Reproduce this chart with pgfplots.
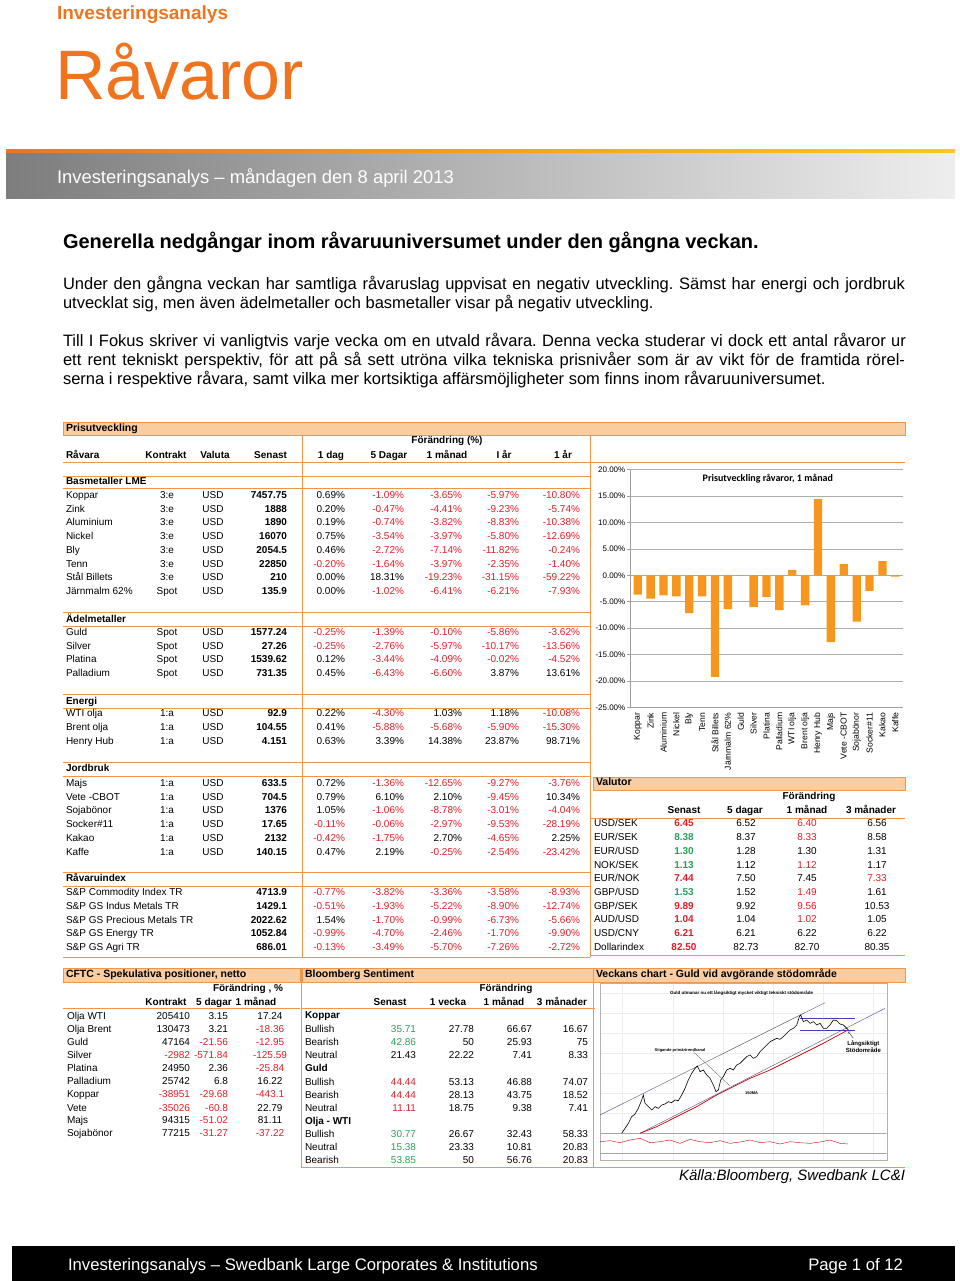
\documentclass[border=0pt]{standalone}
\usepackage{fontspec}
\setmainfont{Liberation Sans}
\newfontfamily\calibri{Carlito}
\usepackage{pgfplots}
\pgfplotsset{compat=1.18}
\frenchspacing

\definecolor{sworange}{RGB}{240,116,30}
\definecolor{swyellow}{RGB}{250,200,30}
\definecolor{lineor}{RGB}{240,150,70}
\definecolor{hdrfill}{RGB}{250,205,160}
\definecolor{negred}{RGB}{220,30,40}
\definecolor{posgreen}{RGB}{40,160,90}
\definecolor{barorange}{RGB}{247,150,30}
\definecolor{gdark}{RGB}{125,125,125}
\definecolor{glight}{RGB}{238,238,238}

\newcommand\fsz[1]{\fontsize{#1}{#1}\selectfont}
\def\vc#1{\vcx#1\relax}
\def\vcx#1#2\relax{\ifx-#1\textcolor{negred}{#1#2}\else#1#2\fi}
\newcommand\Rd[1]{\textcolor{negred}{#1}}
\newcommand\Gn[1]{\textcolor{posgreen}{#1}}

% Prisutveckling rows
\newcommand\prow[5]{%
 \node[anchor=mid west] at (66,#1) {#2};
 \node[anchor=mid] at (167,#1) {#3};
 \node[anchor=mid] at (213,#1) {#4};
 \node[anchor=mid east] at (287,#1) {\bfseries #5};}
\newcommand\pv[6]{%
 \node[anchor=mid east] at (345,#1) {\vc{#2\%}};
 \node[anchor=mid east] at (404,#1) {\vc{#3\%}};
 \node[anchor=mid east] at (462,#1) {\vc{#4\%}};
 \node[anchor=mid east] at (519,#1) {\vc{#5\%}};
 \node[anchor=mid east] at (580,#1) {\vc{#6\%}};}
% Valutor rows
\newcommand\vrow[6]{%
 \node[anchor=mid west] at (594,#1) {#2};
 \node[anchor=mid] at (684,#1) {\bfseries #3};
 \node[anchor=mid] at (746,#1) {#4};
 \node[anchor=mid] at (807,#1) {#5};
 \node[anchor=mid] at (877,#1) {#6};}
% CFTC rows
\newcommand\crow[5]{%
 \node[anchor=mid west] at (67,#1) {#2};
 \node[anchor=mid east] at (190,#1) {\vc{#3}};
 \node[anchor=mid east] at (228,#1) {\vc{#4}};
 \node[anchor=mid] at (270,#1) {\vc{#5}};}
% Bloomberg rows
\newcommand\brow[6]{%
 \node[anchor=mid west] at (305,#1) {#2};
 \node[anchor=mid east] at (416,#1) {#3};
 \node[anchor=mid east] at (474,#1) {#4};
 \node[anchor=mid east] at (532,#1) {#5};
 \node[anchor=mid east] at (588,#1) {#6};}
\newcommand\hdrbar[4]{% x1 x2 y1 y2
 \filldraw[fill=hdrfill, draw=lineor, line width=0.8pt] (#1,#3) rectangle (#2,#4);}

\begin{document}
\begin{tikzpicture}
\begin{scope}[x=1pt,y=-1pt, every node/.style={inner sep=0pt, outer sep=0pt}, font=\fsz{10}]
\path[use as bounding box] (0,0) rectangle (960,1281);

% ---------- header ----------
\node[anchor=base west, font=\bfseries\fsz{19}, text=sworange] at (57,20) {Investeringsanalys};
\node[anchor=base west, font=\fsz{70}, text=sworange] at (55,100) {Råvaror};
\shade[left color=sworange, right color=swyellow] (6,150) rectangle (955,154);
\shade[left color=gdark, right color=glight] (6,154) rectangle (955,199);
\node[anchor=base west, font=\fsz{18.4}, text=white] at (57,184) {Investeringsanalys – måndagen den 8 april 2013};

% ---------- text ----------
\node[anchor=base west, font=\bfseries\fsz{20}] at (63,248) {Generella nedgångar inom råvaruuniversumet under den gångna veckan.};
\begin{scope}[font=\fsz{16.5}]
\node[anchor=base west] at (63,289) {\hbox to 842pt{Under den gångna veckan har samtliga råvaruslag uppvisat en negativ utveckling. Sämst har energi och jordbruk}};
\node[anchor=base west] at (63,308) {utvecklat sig, men även ädelmetaller och basmetaller visar på negativ utveckling.};
\node[anchor=base west] at (63,346) {\hbox to 843pt{Till I Fokus skriver vi vanligtvis varje vecka om en utvald råvara. Denna vecka studerar vi dock ett antal råvaror ur}};
\node[anchor=base west] at (63,365) {\hbox to 842pt{ett rent tekniskt perspektiv, för att på så sett utröna vilka tekniska prisnivåer som är av vikt för de framtida rörel-}};
\node[anchor=base west] at (63,384) {serna i respektive råvara, samt vilka mer kortsiktiga affärsmöjligheter som finns inom råvaruuniversumet.};
\end{scope}

% ---------- Prisutveckling table ----------
\hdrbar{63}{905}{422}{435}
\node[anchor=mid west, font=\bfseries\fsz{10.5}] at (66,429) {Prisutveckling};
\node[anchor=mid, font=\bfseries] at (447,441) {Förändring (\%)};
\begin{scope}[font=\bfseries\fsz{10}]
\node[anchor=mid west] at (66,456) {Råvara};
\node[anchor=mid] at (166,456) {Kontrakt};
\node[anchor=mid] at (215,456) {Valuta};
\node[anchor=mid east] at (287,456) {Senast};
\node[anchor=mid] at (331,456) {1 dag};
\node[anchor=mid] at (389,456) {5 Dagar};
\node[anchor=mid] at (447,456) {1 månad};
\node[anchor=mid] at (504,456) {I år};
\node[anchor=mid] at (563,456) {1 år};
\node[anchor=mid west] at (66,482) {Basmetaller LME};
\node[anchor=mid west] at (66,620) {Ädelmetaller};
\node[anchor=mid west] at (66,702) {Energi};
\node[anchor=mid west] at (66,769) {Jordbruk};
\node[anchor=mid west] at (66,879) {Råvaruindex};
\end{scope}
\begin{scope}[draw=lineor, line width=0.9pt]
\draw (63,462) -- (905,462);
\foreach \yy in {476,488,612,626,694,708,762,776,872,886,957} {\draw (63,\yy) -- (590,\yy);}
\draw (302,435) -- (302,957);
\draw (590,435) -- (590,957);
\end{scope}

\prow{496}{Koppar}{3:e}{USD}{7457.75}\pv{496}{0.69}{-1.09}{-3.65}{-5.97}{-10.80}
\prow{510}{Zink}{3:e}{USD}{1888}\pv{510}{0.20}{-0.47}{-4.41}{-9.23}{-5.74}
\prow{523}{Aluminium}{3:e}{USD}{1890}\pv{523}{0.19}{-0.74}{-3.82}{-8.83}{-10.38}
\prow{537}{Nickel}{3:e}{USD}{16070}\pv{537}{0.75}{-3.54}{-3.97}{-5.80}{-12.69}
\prow{551}{Bly}{3:e}{USD}{2054.5}\pv{551}{0.46}{-2.72}{-7.14}{-11.82}{-0.24}
\prow{565}{Tenn}{3:e}{USD}{22850}\pv{565}{-0.20}{-1.64}{-3.97}{-2.35}{-1.40}
\prow{578}{Stål Billets}{3:e}{USD}{210}\pv{578}{0.00}{18.31}{-19.23}{-31.15}{-59.22}
\prow{592}{Järnmalm 62\%}{Spot}{USD}{135.9}\pv{592}{0.00}{-1.02}{-6.41}{-6.21}{-7.93}
\prow{633}{Guld}{Spot}{USD}{1577.24}\pv{633}{-0.25}{-1.39}{-0.10}{-5.86}{-3.62}
\prow{647}{Silver}{Spot}{USD}{27.26}\pv{647}{-0.25}{-2.76}{-5.97}{-10.17}{-13.56}
\prow{660}{Platina}{Spot}{USD}{1539.62}\pv{660}{0.12}{-3.44}{-4.09}{-0.02}{-4.52}
\prow{674}{Palladium}{Spot}{USD}{731.35}\pv{674}{0.45}{-6.43}{-6.60}{3.87}{13.61}
\prow{714}{WTI olja}{1:a}{USD}{92.9}\pv{714}{0.22}{-4.30}{1.03}{1.18}{-10.08}
\prow{728}{Brent olja}{1:a}{USD}{104.55}\pv{728}{0.41}{-5.88}{-5.68}{-5.90}{-15.30}
\prow{742}{Henry Hub}{1:a}{USD}{4.151}\pv{742}{0.63}{3.39}{14.38}{23.87}{98.71}
\prow{784}{Majs}{1:a}{USD}{633.5}\pv{784}{0.72}{-1.36}{-12.65}{-9.27}{-3.76}
\prow{798}{Vete -CBOT}{1:a}{USD}{704.5}\pv{798}{0.79}{6.10}{2.10}{-9.45}{10.34}
\prow{811}{Sojabönor}{1:a}{USD}{1376}\pv{811}{1.05}{-1.06}{-8.78}{-3.01}{-4.04}
\prow{825}{Socker\#11}{1:a}{USD}{17.65}\pv{825}{-0.11}{-0.06}{-2.97}{-9.53}{-28.19}
\prow{839}{Kakao}{1:a}{USD}{2132}\pv{839}{-0.42}{-1.75}{2.70}{-4.65}{2.25}
\prow{853}{Kaffe}{1:a}{USD}{140.15}\pv{853}{0.47}{2.19}{-0.25}{-2.54}{-23.42}
\prow{893}{S\&P Commodity Index TR}{}{}{4713.9}\pv{893}{-0.77}{-3.82}{-3.36}{-3.58}{-8.93}
\prow{907}{S\&P GS Indus Metals TR}{}{}{1429.1}\pv{907}{-0.51}{-1.93}{-5.22}{-8.90}{-12.74}
\prow{921}{S\&P GS Precious Metals TR}{}{}{2022.62}\pv{921}{1.54}{-1.70}{-0.99}{-6.73}{-5.66}
\prow{934}{S\&P GS Energy TR}{}{}{1052.84}\pv{934}{-0.99}{-4.70}{-2.46}{-1.70}{-9.90}
\prow{948}{S\&P GS Agri TR}{}{}{686.01}\pv{948}{-0.13}{-3.49}{-5.70}{-7.26}{-2.72}

% ---------- Valutor ----------
\hdrbar{593}{905}{777}{790}
\node[anchor=mid west, font=\bfseries\fsz{10.5}] at (596,783) {Valutor};
\begin{scope}[font=\bfseries\fsz{10}]
\node[anchor=mid] at (809,797) {Förändring};
\node[anchor=mid] at (684,811) {Senast};
\node[anchor=mid] at (745,811) {5 dagar};
\node[anchor=mid] at (807,811) {1 månad};
\node[anchor=mid] at (871,811) {3 månader};
\end{scope}
\draw[lineor, line width=0.9pt] (590,818) -- (905,818);
\draw[lineor, line width=0.9pt] (590,955) -- (905,955);
\vrow{824}{USD/SEK}{\Rd{6.45}}{6.52}{\Rd{6.40}}{6.56}
\vrow{838}{EUR/SEK}{\Gn{8.38}}{8.37}{\Rd{8.33}}{8.58}
\vrow{852}{EUR/USD}{\Gn{1.30}}{1.28}{1.30}{1.31}
\vrow{866}{NOK/SEK}{\Gn{1.13}}{1.12}{\Rd{1.12}}{1.17}
\vrow{879}{EUR/NOK}{\Rd{7.44}}{7.50}{7.45}{\Rd{7.33}}
\vrow{893}{GBP/USD}{\Gn{1.53}}{1.52}{\Rd{1.49}}{1.61}
\vrow{907}{GBP/SEK}{\Rd{9.89}}{9.92}{\Rd{9.56}}{10.53}
\vrow{920}{AUD/USD}{\Rd{1.04}}{1.04}{\Rd{1.02}}{1.05}
\vrow{934}{USD/CNY}{\Rd{6.21}}{6.21}{6.22}{6.22}
\vrow{948}{Dollarindex}{\Rd{82.50}}{82.73}{82.70}{80.35}

% ---------- CFTC ----------
\hdrbar{63}{300}{968}{982}
\node[anchor=mid west, font=\bfseries\fsz{10.5}] at (66,975) {CFTC - Spekulativa positioner, netto};
\begin{scope}[font=\bfseries\fsz{10}]
\node[anchor=mid] at (248,989) {Förändring , \%};
\node[anchor=mid] at (166,1003) {Kontrakt};
\node[anchor=mid] at (214,1003) {5 dagar};
\node[anchor=mid] at (256,1003) {1 månad};
\end{scope}
\draw[lineor, line width=0.9pt] (63,1008) -- (300,1008);
\crow{1017}{Olja WTI}{205410}{3.15}{17.24}
\crow{1030}{Olja Brent}{130473}{3.21}{-18.36}
\crow{1043}{Guld}{47164}{-21.56}{-12.95}
\crow{1056}{Silver}{-2982}{-571.84}{-125.59}
\crow{1069}{Platina}{24950}{2.36}{-25.84}
\crow{1082}{Palladium}{25742}{6.8}{16.22}
\crow{1095}{Koppar}{-38951}{-29.68}{-443.1}
\crow{1109}{Vete}{-35026}{-60.8}{22.79}
\crow{1121}{Majs}{94315}{-51.02}{81.11}
\crow{1134}{Sojabönor}{77215}{-31.27}{-37.22}

% ---------- Bloomberg ----------
\hdrbar{302}{595}{968}{982}
\node[anchor=mid west, font=\bfseries\fsz{10.5}] at (305,975) {Bloomberg Sentiment};
\begin{scope}[font=\bfseries\fsz{10}]
\node[anchor=mid] at (506,989) {Förändring};
\node[anchor=mid] at (390,1003) {Senast};
\node[anchor=mid] at (448,1003) {1 vecka};
\node[anchor=mid] at (504,1003) {1 månad};
\node[anchor=mid] at (562,1003) {3 månader};
\node[anchor=mid west] at (305,1016) {Koppar};
\node[anchor=mid west] at (305,1069) {Guld};
\node[anchor=mid west] at (305,1122) {Olja - WTI};
\end{scope}
\draw[lineor, line width=0.9pt] (302,1008) -- (595,1008);
\brow{1030}{Bullish}{\Gn{35.71}}{27.78}{66.67}{16.67}
\brow{1043}{Bearish}{\Gn{42.86}}{50}{25.93}{75}
\brow{1056}{Neutral}{21.43}{22.22}{7.41}{8.33}
\brow{1083}{Bullish}{\Rd{44.44}}{53.13}{46.88}{74.07}
\brow{1096}{Bearish}{\Rd{44.44}}{28.13}{43.75}{18.52}
\brow{1109}{Neutral}{\Rd{11.11}}{18.75}{9.38}{7.41}
\brow{1135}{Bullish}{\Gn{30.77}}{26.67}{32.43}{58.33}
\brow{1148}{Neutral}{\Gn{15.38}}{23.33}{10.81}{20.83}
\brow{1161}{Bearish}{\Gn{53.85}}{50}{56.76}{20.83}

% ---------- Veckans chart ----------
\hdrbar{593}{905}{968}{982}
\node[anchor=mid west, font=\bfseries\fsz{10.5}] at (596,975) {Veckans chart - Guld vid avgörande stödområde};
\begin{scope}[draw=lineor, line width=0.9pt]
\draw (301,968) -- (301,1167);
\draw (593,968) -- (593,1167);
\draw (301,1167) -- (905,1167);
\end{scope}
\node[anchor=base east, font=\itshape\fsz{15}] at (905,1180) {Källa:Bloomberg, Swedbank LC\&I};

% ---------- footer ----------
\fill[black] (12,1246) rectangle (955,1281);
\node[anchor=base west, font=\fsz{16.7}, text=white] at (68,1270) {Investeringsanalys – Swedbank Large Corporates \& Institutions};
\node[anchor=base east, font=\fsz{16.7}, text=white] at (903,1270) {Page 1 of 12};
\end{scope}

% ---------- bar chart ----------
\begin{axis}[
 at={(630pt,-707.5pt)}, anchor=south west,
 scale only axis, width=273pt, height=238pt,
 xmin=-0.6, xmax=20.6, ymin=-25, ymax=20,
 axis lines*=left, axis line style={draw=gray!75, line width=0.6pt},
 ytick={-25,-20,...,20},
 yticklabels={-25.00\%,-20.00\%,-15.00\%,-10.00\%,-5.00\%,0.00\%,5.00\%,10.00\%,15.00\%,20.00\%},
 ymajorgrids, grid style={draw=gray!65, line width=0.6pt},
 xtick={0,...,20},
 xticklabels={Koppar,Zink,Aluminium,Nickel,Bly,Tenn,Stål Billets,Järnmalm 62\%,Guld,Silver,Platina,Palladium,WTI olja,Brent olja,Henry Hub,Majs,Vete -CBOT,Sojabönor,Socker\#11,Kakao,Kaffe},
 x tick style={draw=none},
 y tick style={draw=gray!75, line width=0.6pt},
 tick align=outside, major tick length=3pt,
 tick label style={font=\fsz{8}},
 x tick label style={rotate=90, anchor=east, inner sep=2pt, font=\fsz{8.6}},
 y tick label style={inner sep=1.5pt},
 clip=false,
]
\addplot[ybar, bar width=8.3pt, fill=barorange, draw=none] coordinates {
 (0,-3.65) (1,-4.41) (2,-3.82) (3,-3.97) (4,-7.14) (5,-3.97) (6,-19.23)
 (7,-6.41) (8,-0.10) (9,-5.97) (10,-4.09) (11,-6.60) (12,1.03) (13,-5.68)
 (14,14.38) (15,-12.65) (16,2.10) (17,-8.78) (18,-2.97) (19,2.70) (20,-0.25)};
\node[font=\calibri\bfseries\fsz{10}] at (rel axis cs:0.505,0.96) {Prisutveckling råvaror, 1 månad};
\end{axis}

% ---------- gold chart (approximation of the embedded picture) ----------
\begin{axis}[
 at={(600pt,-1160pt)}, anchor=south west,
 scale only axis, width=286.7pt, height=176.7pt,
 xmin=30, xmax=890, ymin=0, ymax=530,
 axis line style={draw=gray!60, line width=0.4pt},
 xtick={95,250,400,550,700,850}, ytick={80,140,200,260,320,380,440,500},
 xticklabels={}, yticklabels={}, major tick length=0pt,
 grid=major, grid style={draw=gray!15, line width=0.3pt},
 clip=true,
]
\addplot[gray!70, line width=0.4pt] coordinates {(30,80) (890,80)};
\addplot[gray!70, line width=0.4pt] coordinates {(30,20) (890,20)};
\addplot[gray!80!blue, line width=0.5pt] coordinates {(30,135) (705,472)};
\addplot[gray!80!blue, line width=0.5pt] coordinates {(150,80) (885,455)};
\addplot[blue!50!gray, line width=0.4pt] coordinates {(630,425) (795,425)};
\addplot[blue!50!gray, line width=0.4pt] coordinates {(630,390) (795,390)};
\addplot[red!80!black, line width=0.7pt] coordinates {
 (150,80) (200,100) (260,130) (320,160) (380,195) (420,215) (480,245) (540,270)
 (600,300) (640,320) (700,350) (740,372) (770,388)};
\addplot[black, line width=0.6pt] coordinates {
 (95,80) (105,95) (115,110) (125,130) (135,138) (145,155) (155,180) (160,195)
 (165,170) (175,160) (185,150) (195,160) (205,155) (215,165) (225,168) (235,175)
 (245,172) (255,180) (265,178) (275,195) (285,215) (295,240) (305,260) (315,275)
 (322,282) (330,265) (340,270) (350,255) (360,245) (370,225) (378,205) (385,210)
 (392,240) (400,250) (410,270) (420,275) (430,270) (440,285) (450,290) (460,300)
 (470,310) (480,315) (490,305) (500,310) (510,325) (520,335) (530,345) (540,355)
 (550,360) (560,365) (570,362) (580,370) (590,380) (600,390) (610,395) (620,405)
 (628,430) (632,435) (640,415) (650,420) (660,410) (670,415) (680,405) (690,410)
 (700,395) (710,395) (720,405) (730,420) (740,418) (750,408) (760,405) (770,395) (775,390)};
\addplot[red!80!black, line width=0.4pt] coordinates {
 (30,55) (60,58) (90,52) (120,60) (150,65) (180,52) (210,55) (240,60) (270,50)
 (300,62) (330,55) (360,52) (390,58) (420,50) (450,54) (480,60) (510,52) (540,55)
 (570,48) (600,55) (630,52) (660,50) (690,54) (720,60) (750,50) (775,48)};
\draw[gray!70!black, line width=0.3pt] (axis cs:310,325) -- (axis cs:420,222);
\node[font=\bfseries\fsz{4.5}] at (axis cs:455,500) {Guld utmanar nu ett långsiktigt mycket viktigt tekniskt stödområde};
\node[font=\bfseries\fsz{4}] at (axis cs:270,328) {Stigande primärtrendkanal};
\node[font=\bfseries\fsz{4}] at (axis cs:485,202) {150MA};
\node[font=\bfseries\fsz{6}, align=center] at (axis cs:820,340) {Långsiktigt\\Stödområde};
\draw[black, line width=0.3pt, ->] (axis cs:790,365) -- (axis cs:775,385);
\end{axis}
\end{tikzpicture}
\end{document}
